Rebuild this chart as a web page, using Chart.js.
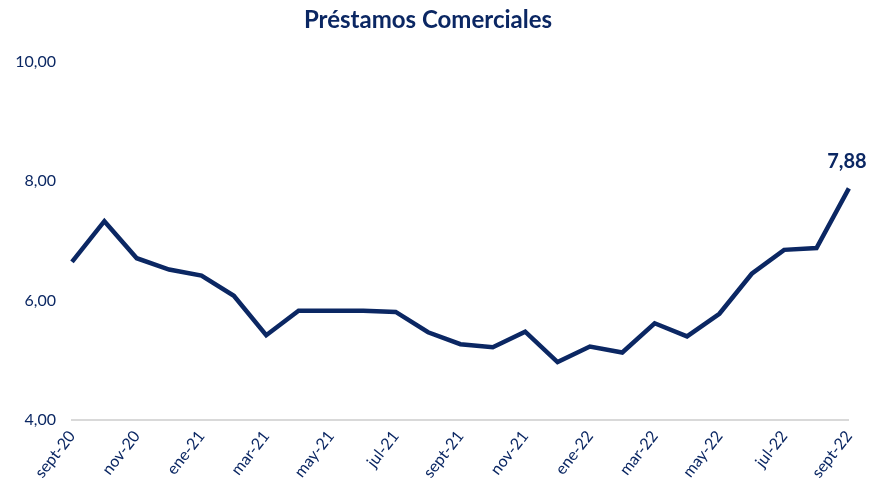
<!DOCTYPE html>
<html>
<head>
<meta charset="utf-8">
<script src="https://cdn.jsdelivr.net/npm/chart.js@4/dist/chart.umd.min.js"></script>
<style>
  html, body { margin: 0; padding: 0; background: #ffffff; }
  #wrap { width: 871px; height: 493px; }
</style>
</head>
<body>
<div id="wrap"><canvas id="c" width="871" height="493"></canvas></div>
<script>
const categories = [
  "sept-20","oct-20","nov-20","dic-20","ene-21","feb-21","mar-21","abr-21","may-21",
  "jun-21","jul-21","ago-21","sept-21","oct-21","nov-21","dic-21","ene-22","feb-22",
  "mar-22","abr-22","may-22","jun-22","jul-22","ago-22","sept-22"
];
const values = [
  6.65, 7.33, 6.71, 6.52, 6.42, 6.08, 5.42, 5.83, 5.83,
  5.83, 5.81, 5.47, 5.27, 5.22, 5.48, 4.97, 5.23, 5.13,
  5.62, 5.40, 5.78, 6.45, 6.85, 6.88, 7.88
];
const yTicks = [4, 6, 8, 10];
const titleText = "Préstamos Comerciales";
const lastLabel = "7,88";

const NAVY = "#0b2763";
const FONT = "Lato, 'Open Sans', sans-serif";

const lastLabelPlugin = {
  id: "lastLabel",
  afterDatasetsDraw(chart) {
    const meta = chart.getDatasetMeta(0);
    const pt = meta.data[meta.data.length - 1];
    const ctx = chart.ctx;
    ctx.save();
    ctx.fillStyle = NAVY;
    ctx.font = "bold 20px " + FONT;
    ctx.textAlign = "center";
    ctx.textBaseline = "middle";
    ctx.fillText(lastLabel, pt.x - 2, pt.y - 27);
    ctx.restore();
  }
};

new Chart(document.getElementById("c"), {
  type: "line",
  data: {
    labels: categories,
    datasets: [{
      data: values,
      borderColor: NAVY,
      borderWidth: 4.5,
      pointRadius: 0,
      tension: 0,
      fill: false,
      borderJoinStyle: "miter"
    }]
  },
  options: {
    responsive: false,
    animation: false,
    layout: { padding: { top: 6, left: 6, right: 21, bottom: 4 } },
    plugins: {
      legend: { display: false },
      tooltip: { enabled: false },
      title: {
        display: true,
        text: titleText,
        color: NAVY,
        font: { family: FONT, size: 24, weight: "bold" },
        padding: { top: 0, bottom: 27 }
      }
    },
    scales: {
      x: {
        offset: false,
        grid: { display: false, drawTicks: false },
        border: { display: true, color: "#d9d9d9", width: 2 },
        ticks: {
          autoSkip: false,
          maxRotation: 52,
          minRotation: 52,
          padding: 7,
          color: NAVY,
          font: { family: FONT, size: 16 },
          callback: function(v, i) { return i % 2 === 0 ? categories[i] : ""; }
        },
        afterFit(scale) { scale.height = 69; }
      },
      y: {
        min: 4,
        max: 10,
        afterBuildTicks(scale) { scale.ticks = yTicks.map(v => ({ value: v })); },
        grid: { display: false, drawTicks: false },
        border: { display: false },
        ticks: {
          padding: 16,
          color: NAVY,
          font: { family: FONT, size: 16 },
          callback: v => v.toFixed(2).replace(".", ",")
        },
        afterFit(scale) { scale.width = 66; }
      }
    }
  },
  plugins: [lastLabelPlugin]
});
</script>
</body>
</html>
